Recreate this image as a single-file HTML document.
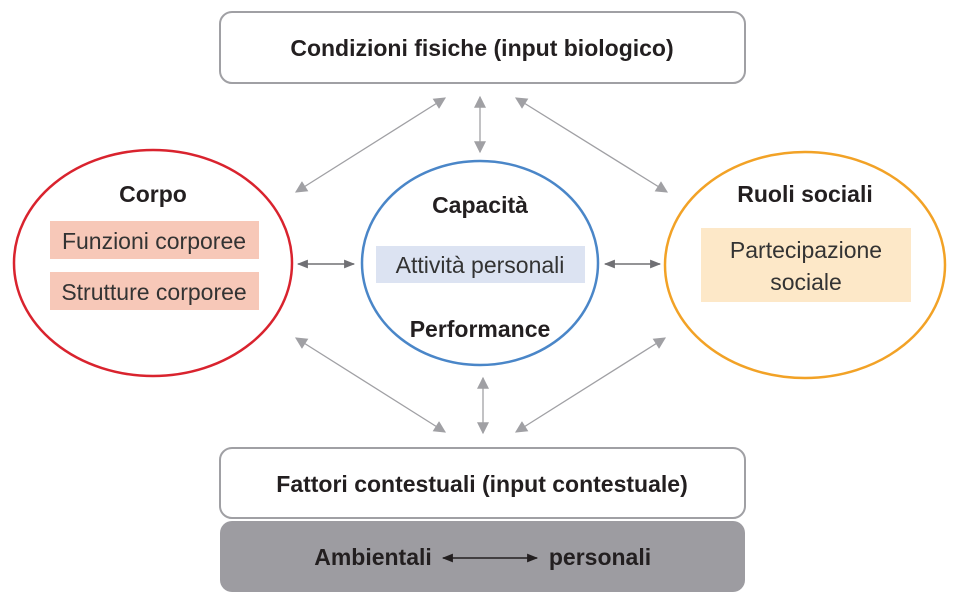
<!DOCTYPE html>
<html><head><meta charset="utf-8"><style>
body{margin:0;background:#fff}
svg{display:block}
text{font-family:"Liberation Sans",sans-serif;fill:#231f20}
.b{font-weight:bold;font-size:23px}
.r{font-size:23px;fill:#333}
</style></head><body>
<svg width="960" height="607" viewBox="0 0 960 607">
<defs>
<marker id="a" viewBox="0 0 10 10" refX="9" refY="5" markerWidth="16" markerHeight="12" orient="auto-start-reverse" markerUnits="userSpaceOnUse"><path d="M0,0 L10,5 L0,10 z" fill="#a0a0a4"/></marker>
<marker id="d" viewBox="0 0 10 10" refX="9" refY="5" markerWidth="14" markerHeight="11" orient="auto-start-reverse" markerUnits="userSpaceOnUse"><path d="M0,1 L10,5 L0,9 z" fill="#707074"/></marker>
<marker id="k" viewBox="0 0 10 10" refX="9" refY="5" markerWidth="18" markerHeight="11" orient="auto-start-reverse" markerUnits="userSpaceOnUse"><path d="M0,1 L10,5 L0,9 z" fill="#231f20"/></marker>
</defs>
<rect x="220" y="12" width="525" height="71" rx="12" fill="#fff" stroke="#a0a0a4" stroke-width="2"/>
<text x="482" y="56" class="b" text-anchor="middle">Condizioni fisiche (input biologico)</text>
<rect x="220" y="448" width="525" height="70" rx="12" fill="#fff" stroke="#a0a0a4" stroke-width="2"/>
<text x="482" y="492" class="b" text-anchor="middle">Fattori contestuali (input contestuale)</text>
<rect x="220" y="521" width="525" height="71" rx="12" fill="#9d9ca1"/>
<text x="373" y="565" class="b" text-anchor="middle">Ambientali</text>
<text x="600" y="565" class="b" text-anchor="middle">personali</text>
<line x1="443" y1="558" x2="537" y2="558" stroke="#231f20" stroke-width="1.5" marker-start="url(#k)" marker-end="url(#k)"/>

<ellipse cx="153" cy="263" rx="139" ry="113" fill="#fff" stroke="#d9232e" stroke-width="2.5"/>
<text x="153" y="202" class="b" text-anchor="middle">Corpo</text>
<rect x="50" y="221" width="209" height="38" fill="#f7c8b8"/>
<text x="154" y="249" class="r" text-anchor="middle">Funzioni corporee</text>
<rect x="50" y="272" width="209" height="38" fill="#f7c8b8"/>
<text x="154" y="300" class="r" text-anchor="middle">Strutture corporee</text>

<ellipse cx="480" cy="263" rx="118" ry="102" fill="#fff" stroke="#4a86c8" stroke-width="2.5"/>
<text x="480" y="213" class="b" text-anchor="middle">Capacità</text>
<rect x="376" y="246" width="209" height="37" fill="#dce3f2"/>
<text x="480" y="273" class="r" text-anchor="middle">Attività personali</text>
<text x="480" y="337" class="b" text-anchor="middle">Performance</text>

<ellipse cx="805" cy="265" rx="140" ry="113" fill="#fff" stroke="#f2a226" stroke-width="2.5"/>
<text x="805" y="202" class="b" text-anchor="middle">Ruoli sociali</text>
<rect x="701" y="228" width="210" height="74" fill="#fde8c8"/>
<text x="806" y="258" class="r" text-anchor="middle">Partecipazione</text>
<text x="806" y="290" class="r" text-anchor="middle">sociale</text>

<g stroke="#a0a0a4" stroke-width="1.3" fill="none">
<line x1="296" y1="192" x2="445" y2="98" marker-start="url(#a)" marker-end="url(#a)"/>
<line x1="480" y1="97" x2="480" y2="152" marker-start="url(#a)" marker-end="url(#a)"/>
<line x1="516" y1="98" x2="667" y2="192" marker-start="url(#a)" marker-end="url(#a)"/>
<line x1="296" y1="338" x2="445" y2="432" marker-start="url(#a)" marker-end="url(#a)"/>
<line x1="483" y1="378" x2="483" y2="433" marker-start="url(#a)" marker-end="url(#a)"/>
<line x1="516" y1="432" x2="665" y2="338" marker-start="url(#a)" marker-end="url(#a)"/>
</g>
<g stroke="#707074" stroke-width="1.5">
<line x1="298" y1="264" x2="354" y2="264" marker-start="url(#d)" marker-end="url(#d)"/>
<line x1="605" y1="264" x2="660" y2="264" marker-start="url(#d)" marker-end="url(#d)"/>
</g>
</svg>
</body></html>
